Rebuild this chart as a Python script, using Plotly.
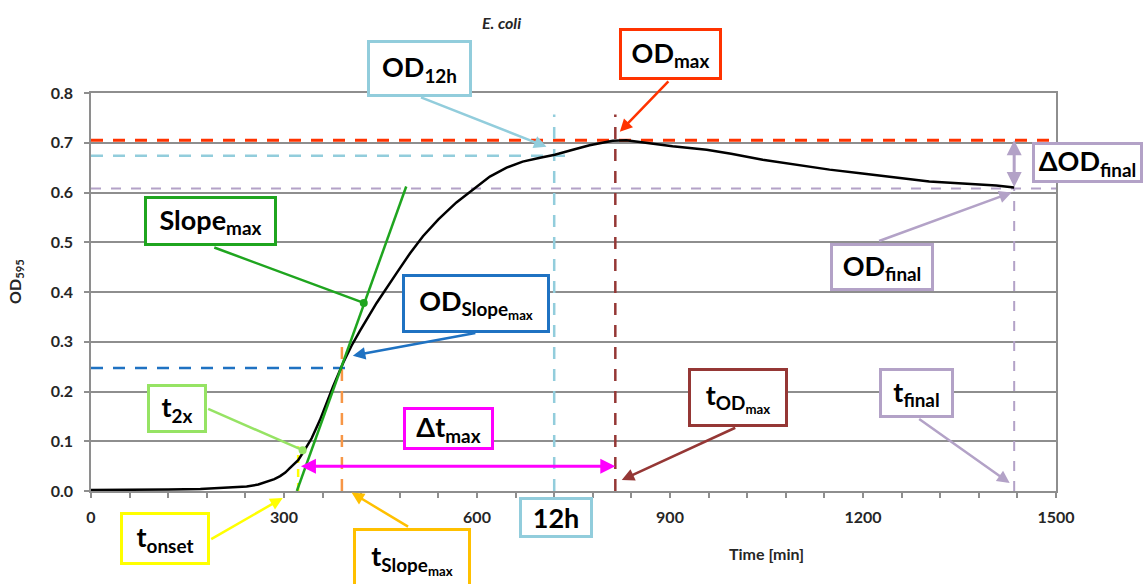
import plotly.graph_objects as go

# --- Measured growth curve (OD595 vs. time) ---
time_min = [0, 60, 120, 170, 210, 242, 260, 273, 285, 294, 302, 309, 316,
            322, 332, 343, 356, 366, 376, 392, 405, 418, 444, 475, 496, 516,
            540, 568, 596, 620, 646, 671, 698, 721, 749, 775, 795, 811, 832,
            863, 904, 957, 995, 1044, 1097, 1148, 1199, 1252, 1303, 1355,
            1407, 1435]
od595 = [0.002, 0.002, 0.003, 0.004, 0.006, 0.009, 0.013, 0.018, 0.024,
         0.030, 0.037, 0.046, 0.054, 0.062, 0.082, 0.106, 0.143, 0.177,
         0.209, 0.258, 0.292, 0.322, 0.378, 0.438, 0.478, 0.512, 0.546,
         0.580, 0.609, 0.632, 0.650, 0.662, 0.670, 0.676, 0.686, 0.695,
         0.700, 0.704, 0.705, 0.700, 0.693, 0.686, 0.678, 0.666, 0.656,
         0.646, 0.638, 0.630, 0.622, 0.618, 0.614, 0.610]

# --- Derived growth parameters ---
t_onset = 320          # min, tangent crosses OD = 0
slope_max = 0.0036     # OD/min, maximal slope
t_slope_max = 390
od_slope_max = 0.247
t_2x = 329
od_2x = 0.082
t_12h = 720
od_12h = 0.674
t_od_max = 815
od_max = 0.705
t_final = 1435
od_final = 0.608

x_ticks = [0, 300, 600, 900, 1200, 1500]
y_ticks = [0.0, 0.1, 0.2, 0.3, 0.4, 0.5, 0.6, 0.7, 0.8]

RED = "#ff3300"
LBLUE = "#92cddc"
PURPLE = "#b3a2c7"
BLUE = "#1f72c2"
DARKRED = "#953735"
ORANGE = "#f79646"
GOLD = "#ffc000"
YELLOW = "#ffff00"
GREEN = "#1fa51f"
LGREEN = "#96e364"
MAGENTA = "#ff00ff"
GRID = "#8e8e8e"
INK = "#262626"
FONT = "Lato"

fig = go.Figure()


def dashed(xs, ys, color, width=2.5, dash="12px,10px"):
    fig.add_trace(go.Scatter(x=xs, y=ys, mode="lines", hoverinfo="skip",
                             line=dict(color=color, width=width, dash=dash)))


# reference lines
dashed([0, 1500], [od_max, od_max], RED, 3)
dashed([0, 750], [od_12h, od_12h], LBLUE, 2.5)
dashed([0, 1500], [od_final, od_final], PURPLE, 2, "10px,10px")
dashed([0, 405], [od_slope_max, od_slope_max], BLUE, 2.5)
dashed([t_12h, t_12h], [0, 0.757], LBLUE, 2.5)
dashed([t_od_max, t_od_max], [0, 0.757], DARKRED, 2.5)
dashed([t_final, t_final], [0, od_final], PURPLE, 2, "10px,10px")
dashed([t_slope_max, t_slope_max], [0, 0.30], ORANGE, 2.5)
dashed([322, 322], [0, 0.09], YELLOW, 2.5, "8px,6px")

# growth curve
fig.add_trace(go.Scatter(x=time_min, y=od595, mode="lines",
                         line=dict(color="black", width=2.5),
                         hoverinfo="skip"))

# tangent at maximal slope
t_tan_end = t_onset + 170
fig.add_trace(go.Scatter(x=[t_onset, t_tan_end],
                         y=[0, slope_max * (t_tan_end - t_onset)],
                         mode="lines", line=dict(color=GREEN, width=2.5),
                         hoverinfo="skip"))

annotations = []


def box(xp, yp, w, h, text, color, size=27):
    annotations.append(dict(
        x=xp, y=yp, xref="paper", yref="paper", xanchor="center",
        yanchor="middle", text=text, showarrow=False,
        width=w - 6, height=h - 6, bordercolor=color, borderwidth=3,
        borderpad=0, bgcolor="white", align="center", valign="middle",
        font=dict(family=FONT, size=size, color="black", weight="bold")))


def arrow(x, y, ax, ay, color, head=2, size=1.0, yref="y"):
    annotations.append(dict(
        x=x, y=y, xref="x", yref=yref, ax=ax, ay=ay, text="",
        showarrow=True, arrowhead=head, arrowsize=size, arrowwidth=2.5,
        arrowcolor=color, standoff=0, font=dict(size=1)))


# connectors from labels to features
arrow(708, 0.692, -127, -50, LBLUE)
arrow(822, 0.722, 50, -52, RED)
arrow(1431, 0.600, -134, 49, PURPLE)
arrow(424, 0.378, -151, -56, GREEN, head=6, size=0.8)
arrow(407, 0.272, 124, -23, BLUE)
arrow(t_2x, od_2x, -96, -42, LGREEN, head=6, size=0.8)
arrow(298, -0.0175, -73, 42, YELLOW, yref="paper")
arrow(405, -0.004, 58, 35, GOLD, yref="paper")
arrow(825, 0.022, 115, -53, DARKRED)
arrow(1428, 0.016, -92, -65, PURPLE)

# double-headed spans
annotations.append(dict(
    x=t_od_max, y=0.05, ax=t_onset + 4, ay=0.05, xref="x", yref="y",
    axref="x", ayref="y", text="", showarrow=True, arrowhead=2,
    arrowside="end+start", arrowsize=1, arrowwidth=3, arrowcolor=MAGENTA,
    standoff=0, startstandoff=0, font=dict(size=1)))
annotations.append(dict(
    x=t_final, y=od_max, ax=t_final, ay=od_final, xref="x", yref="y",
    axref="x", ayref="y", text="", showarrow=True, arrowhead=2,
    arrowside="end+start", arrowsize=1, arrowwidth=3, arrowcolor=PURPLE,
    standoff=0, startstandoff=0, font=dict(size=1)))

# labels
box(0.3404, 1.0616, 105, 57, "OD<sub>12h</sub>", LBLUE)
box(0.6005, 1.098, 103, 52, "OD<sub>max</sub>", RED)
box(1.0326, 0.8254, 111, 41, "ΔOD<sub>final</sub>", PURPLE)
box(0.8197, 0.5628, 104, 48, "OD<sub>final</sub>", PURPLE)
box(0.1238, 0.6784, 133, 50, "Slope<sub>max</sub>", GREEN)
box(0.3990, 0.4711, 148, 59, "OD<sub>Slope<sub>max</sub></sub>", BLUE)
box(0.0891, 0.2073, 60, 49, "t<sub>2x</sub>", LGREEN)
box(0.3705, 0.1558, 91, 43, "Δt<sub>max</sub>", MAGENTA)
box(0.0767, -0.1193, 90, 53, "t<sub>onset</sub>", YELLOW)
box(0.3326, -0.1709, 118, 62, "t<sub>Slope<sub>max</sub></sub>", GOLD)
box(0.4819, -0.0666, 74, 41, "12h", LBLUE)
box(0.6705, 0.2349, 100, 59, "t<sub>OD<sub>max</sub></sub>", DARKRED)
box(0.8554, 0.2462, 75, 50, "t<sub>final</sub>", PURPLE)

# title and axis titles
annotations.append(dict(x=0.4259, y=1.178, xref="paper", yref="paper",
                        xanchor="center", yanchor="middle",
                        text="<i>E. coli</i>", showarrow=False,
                        font=dict(family=FONT, size=16, color=INK,
                                  weight="bold")))
annotations.append(dict(x=0.7005, y=-0.1558, xref="paper", yref="paper",
                        xanchor="center", yanchor="middle",
                        text="Time [min]", showarrow=False,
                        font=dict(family=FONT, size=16, color=INK,
                                  weight="bold")))
annotations.append(dict(x=-0.0789, y=0.5276, xref="paper", yref="paper",
                        xanchor="center", yanchor="middle",
                        text="OD<sub>595</sub>", showarrow=False,
                        textangle=-90,
                        font=dict(family=FONT, size=16, color=INK,
                                  weight="bold")))

fig.update_layout(
    width=1144, height=584,
    margin=dict(l=91, r=88, t=93, b=93),
    plot_bgcolor="white", paper_bgcolor="white",
    showlegend=False,
    annotations=annotations,
    xaxis=dict(range=[0, 1500], tickvals=x_ticks, ticks="outside", ticklen=5,
               tickcolor=GRID, tickwidth=1.5, showline=True, linecolor=GRID,
               linewidth=1.5, mirror=True, showgrid=False, zeroline=False,
               ticklabelstandoff=6,
               minor=dict(dtick=60, tick0=0, ticks="outside", ticklen=5,
                          tickcolor=GRID, tickwidth=1.5, showgrid=False),
               tickfont=dict(family=FONT, size=16, color=INK,
                             weight="bold")),
    yaxis=dict(range=[0, 0.8], tickvals=y_ticks, tickformat=".1f",
               ticks="outside", ticklen=5, tickcolor=GRID, tickwidth=1.5,
               showline=True, linecolor=GRID, linewidth=1.5, mirror=True,
               showgrid=True, gridcolor=GRID, gridwidth=1.5, zeroline=False,
               ticklabelstandoff=8,
               tickfont=dict(family=FONT, size=16, color=INK,
                             weight="bold")),
)

fig.write_html("out.html")
